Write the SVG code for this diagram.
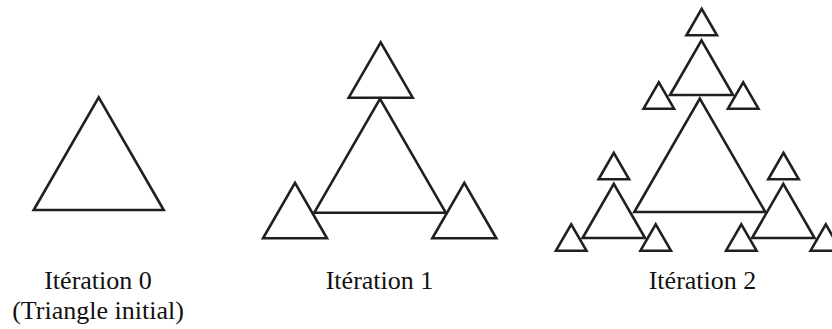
<svg xmlns="http://www.w3.org/2000/svg" width="832" height="329" viewBox="0 0 832 329">
<style>
.tri{fill:none;stroke:#231f20;stroke-width:2.6;stroke-linejoin:miter;stroke-miterlimit:10}
.lbl{font-family:"Liberation Serif","Times New Roman",serif;font-size:26px;fill:#111111;text-anchor:middle}
</style>
<rect width="832" height="329" fill="#ffffff"/>
<g id="iteration0">
<polygon class="tri" points="33.7,210 163.7,210 98.7,97.42"/>
</g>
<g id="iteration1">
<polygon class="tri" points="314.25,212.7 445.75,212.7 380,98.82"/>
<polygon class="tri" points="348.7,97.7 412.7,97.7 380.7,42.27"/>
<polygon class="tri" points="263,238.3 327,238.3 295,182.87"/>
<polygon class="tri" points="432.3,238.3 496.3,238.3 464.3,182.87"/>
</g>
<g id="iteration2">
<polygon class="tri" points="634.3,212 765.3,212 699.8,98.55"/>
<polygon class="tri" points="670,95 733,95 701.5,40.44"/>
<polygon class="tri" points="582.55,238 645.05,238 613.8,183.87"/>
<polygon class="tri" points="752.05,238 814.55,238 783.3,183.87"/>
<polygon class="tri" points="686.45,35.3 716.95,35.3 701.7,8.89"/>
<polygon class="tri" points="643.55,108.7 674.05,108.7 658.8,82.29"/>
<polygon class="tri" points="727.95,108.7 758.45,108.7 743.2,82.29"/>
<polygon class="tri" points="598.55,179.3 629.05,179.3 613.8,152.89"/>
<polygon class="tri" points="555.95,250.7 586.45,250.7 571.2,224.29"/>
<polygon class="tri" points="640.45,250.7 670.95,250.7 655.7,224.29"/>
<polygon class="tri" points="768.25,179.3 798.75,179.3 783.5,152.89"/>
<polygon class="tri" points="726.05,250.7 756.55,250.7 741.3,224.29"/>
<polygon class="tri" points="810.55,250.7 841.05,250.7 825.8,224.29"/>
</g>
<g id="labels">
<text class="lbl" x="98" y="289">Itération 0</text>
<text class="lbl" x="98" y="318.5">(Triangle initial)</text>
<text class="lbl" x="379.5" y="289">Itération 1</text>
<text class="lbl" x="702.5" y="289">Itération 2</text>
</g>
</svg>
